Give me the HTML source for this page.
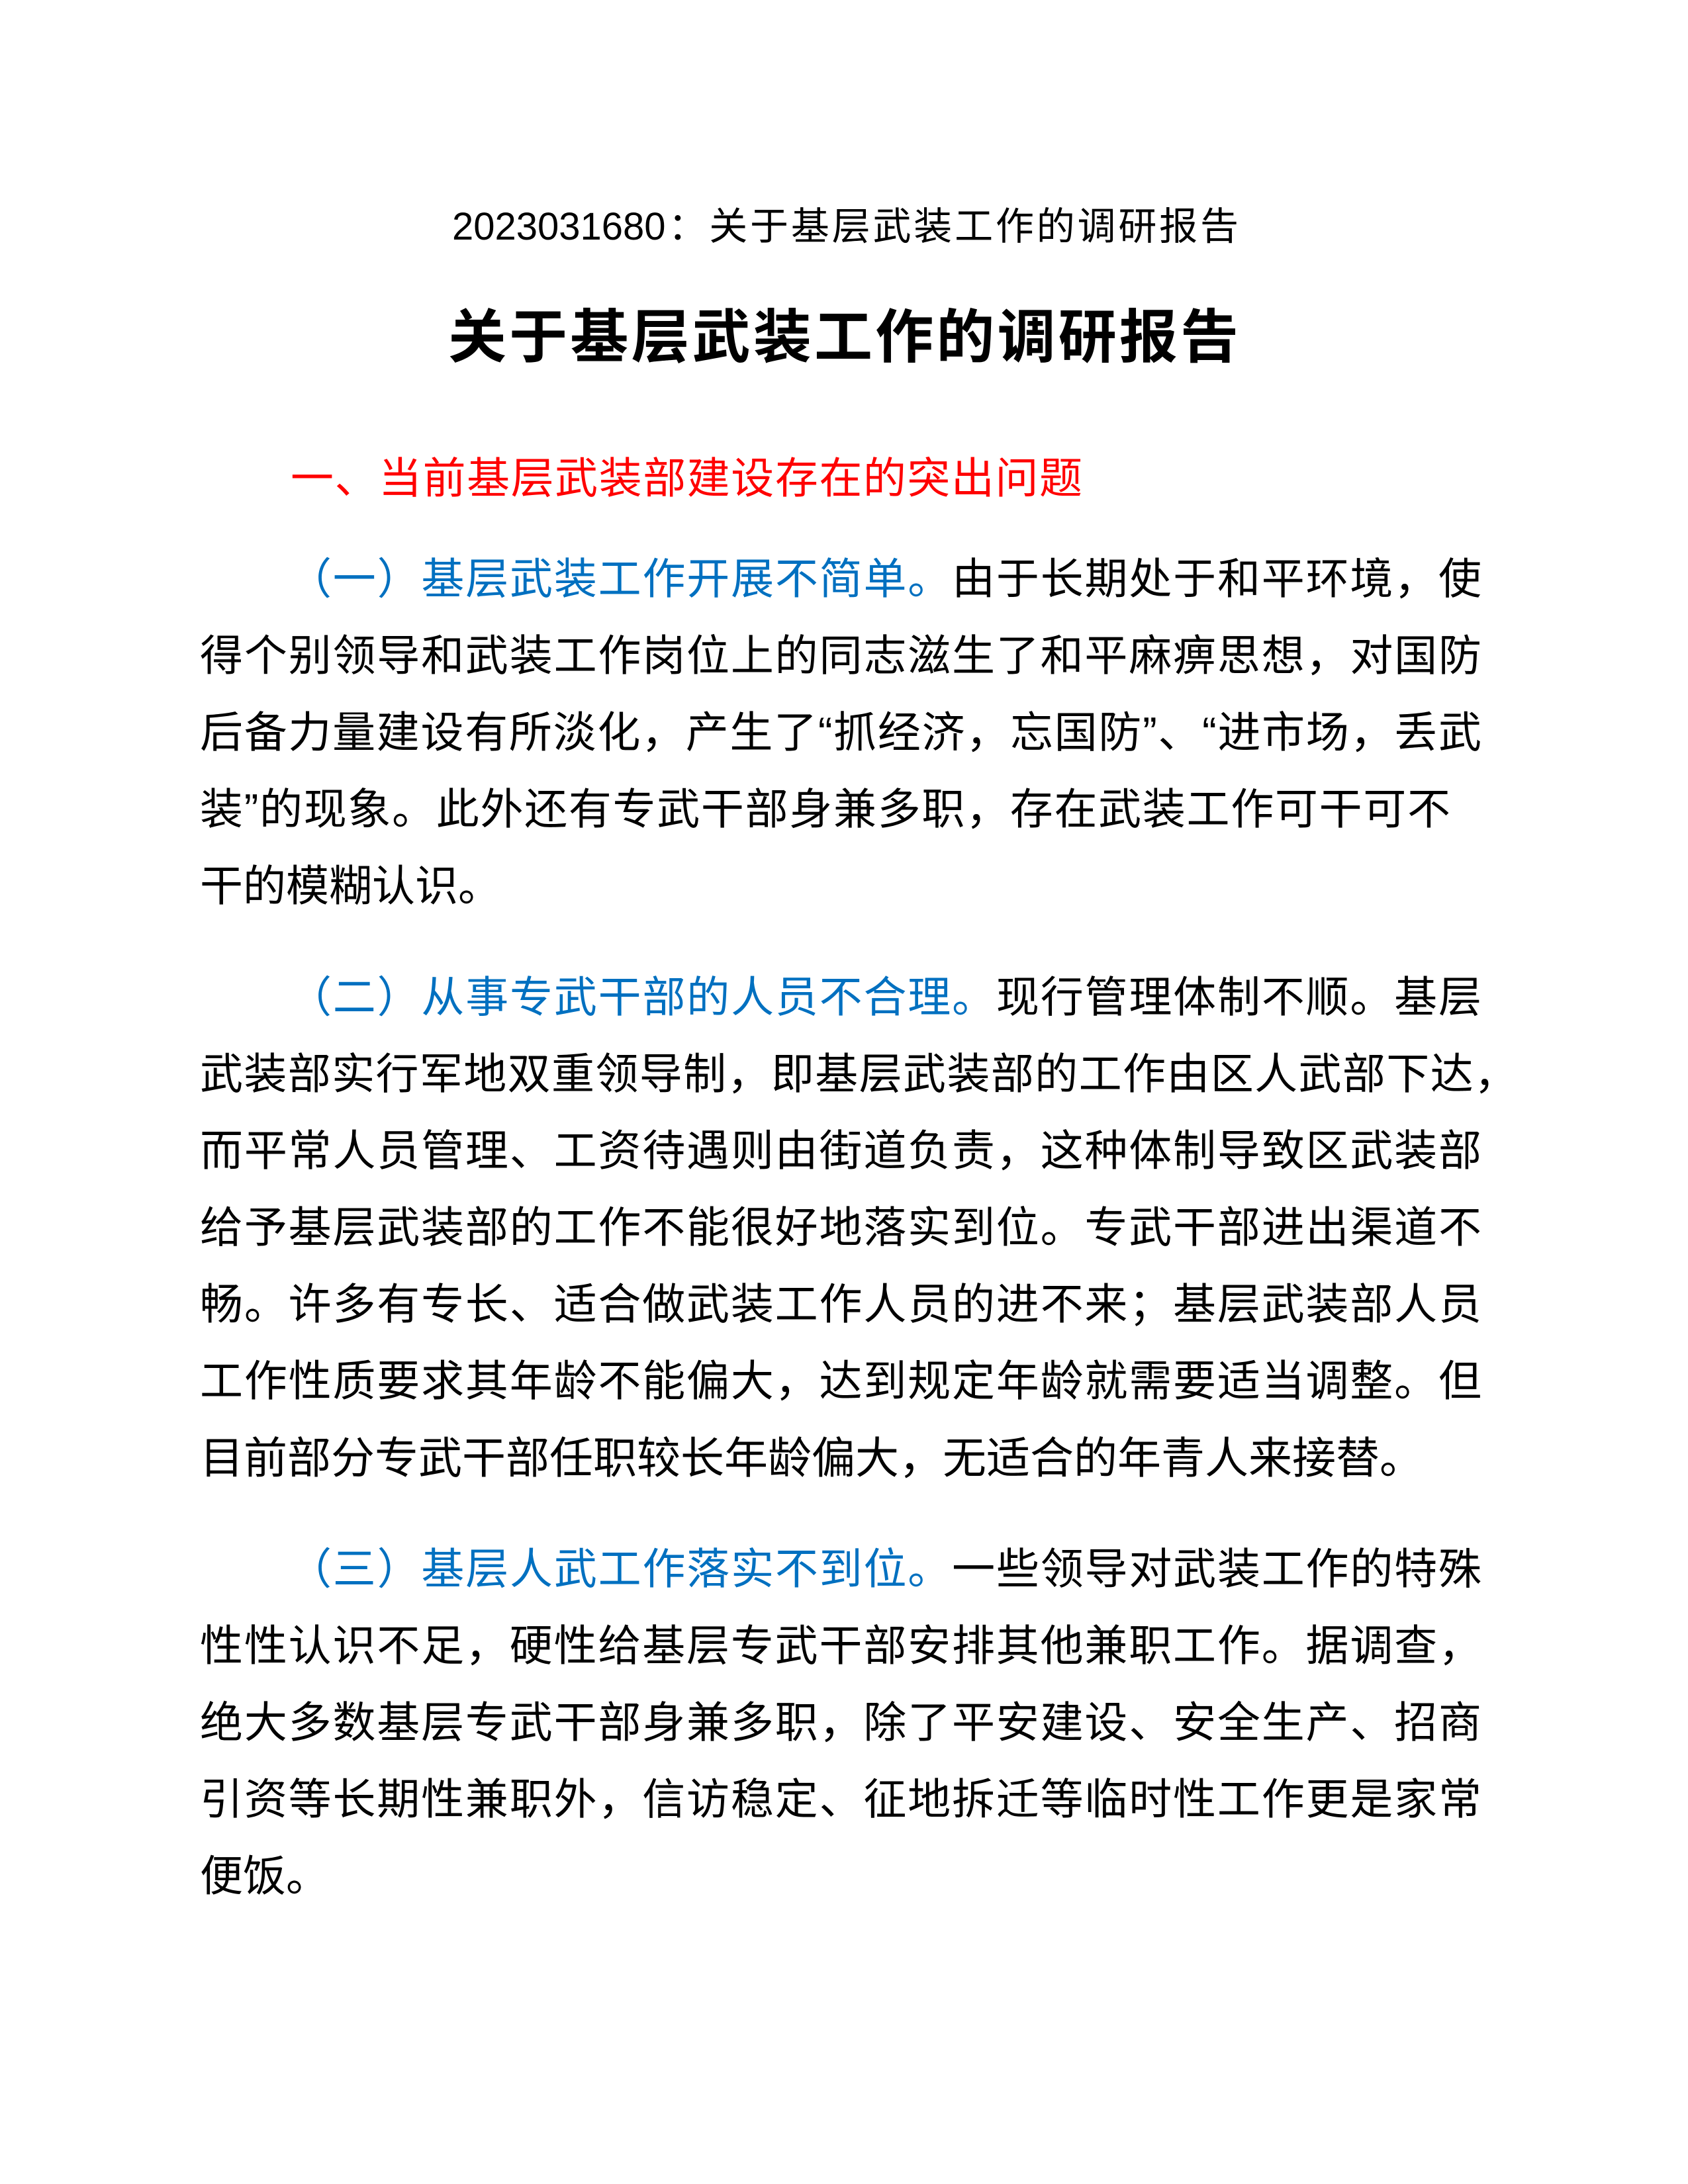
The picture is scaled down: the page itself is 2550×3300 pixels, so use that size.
<!DOCTYPE html>
<html lang="zh-CN"><head><meta charset="utf-8">
<style>
html,body{margin:0;padding:0;background:#fff}
body{width:2550px;height:3300px;position:relative;overflow:hidden;font-family:"Liberation Sans","Noto Sans CJK SC",sans-serif;color:#000}
.l{position:absolute;white-space:nowrap;font-size:65px;line-height:116px;height:116px}
.j{text-align:justify;text-align-last:justify;white-space:normal;overflow:visible}
.b{color:#0070c0}
.r{color:#ff0000}
</style></head><body>
<div class="l j" style="left:683px;width:1188px;top:285px;font-size:58px">2023031680：关于基层武装工作的调研报告</div>
<div class="l j" style="left:677px;width:1194px;top:448px;font-size:88px;font-weight:bold;line-height:124px;height:124px">关于基层武装工作的调研报告</div>
<div class="l j r" style="left:439px;width:1196px;top:665px">一、当前基层武装部建设存在的突出问题</div>

<div class="l j" style="left:436px;width:1802px;top:817px"><span class="b">（一）基层武装工作开展不简单。</span>由于长期处于和平环境，使</div>
<div class="l j" style="left:302px;width:1936px;top:933px">得个别领导和武装工作岗位上的同志滋生了和平麻痹思想，对国防</div>
<div class="l j" style="left:302px;width:1936px;top:1049px">后备力量建设有所淡化，产生了“抓经济，忘国防”、“进市场，丢武</div>
<div class="l j" style="left:302px;width:1889px;top:1165px">装”的现象。此外还有专武干部身兼多职，存在武装工作可干可不</div>
<div class="l" style="left:302px;top:1281px">干的模糊认识。</div>

<div class="l j" style="left:436px;width:1802px;top:1449px"><span class="b">（二）从事专武干部的人员不合理。</span>现行管理体制不顺。基层</div>
<div class="l j" style="left:302px;width:1990px;top:1565px">武装部实行军地双重领导制，即基层武装部的工作由区人武部下达，</div>
<div class="l j" style="left:302px;width:1936px;top:1681px">而平常人员管理、工资待遇则由街道负责，这种体制导致区武装部</div>
<div class="l j" style="left:302px;width:1936px;top:1797px">给予基层武装部的工作不能很好地落实到位。专武干部进出渠道不</div>
<div class="l j" style="left:302px;width:1936px;top:1913px">畅。许多有专长、适合做武装工作人员的进不来；基层武装部人员</div>
<div class="l j" style="left:302px;width:1936px;top:2029px">工作性质要求其年龄不能偏大，达到规定年龄就需要适当调整。但</div>
<div class="l" style="left:302px;top:2145px;font-size:66px">目前部分专武干部任职较长年龄偏大，无适合的年青人来接替。</div>

<div class="l j" style="left:436px;width:1802px;top:2313px"><span class="b">（三）基层人武工作落实不到位。</span>一些领导对武装工作的特殊</div>
<div class="l j" style="left:302px;width:1936px;top:2429px">性性认识不足，硬性给基层专武干部安排其他兼职工作。据调查，</div>
<div class="l j" style="left:302px;width:1936px;top:2545px">绝大多数基层专武干部身兼多职，除了平安建设、安全生产、招商</div>
<div class="l j" style="left:302px;width:1936px;top:2661px">引资等长期性兼职外，信访稳定、征地拆迁等临时性工作更是家常</div>
<div class="l" style="left:302px;top:2777px">便饭。</div>
</body></html>
